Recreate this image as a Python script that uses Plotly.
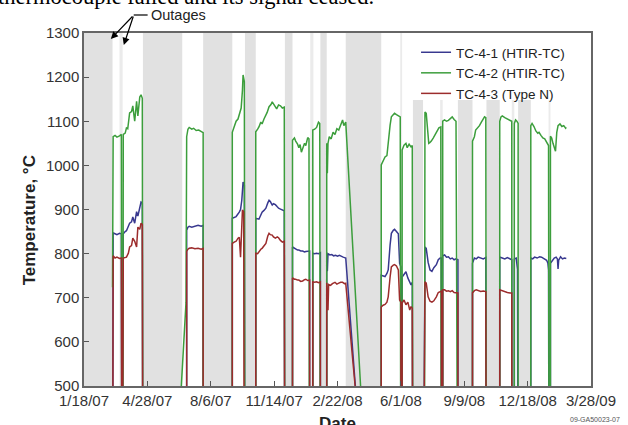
import pandas as pd
import plotly.graph_objects as go

START = pd.Timestamp("2007-01-18")
END = pd.Timestamp("2009-03-28")

# x-axis ticks (every 100 days)
tick_days = [0, 100, 200, 300, 400, 500, 600, 700, 800]
tick_labels = ["1/18/07", "4/28/07", "8/6/07", "11/14/07", "2/22/08",
               "6/1/08", "9/9/08", "12/18/08", "3/28/09"]
y_ticks = [500, 600, 700, 800, 900, 1000, 1100, 1200, 1300]

# outage periods (days after 1/18/07)
outage_start = [0, 93, 188, 254, 317, 373, 413, 519, 590, 635, 685]
outage_end = [45, 155, 234, 271, 329, 383, 469, 535, 613, 656, 705]
short_outage_start = [56, 357, 499, 562, 675, 733]
short_outage_end = [61, 362, 502, 566, 679, 736]

# TC-4-1 (HTIR-TC)
tc41_day = [45, 46, 49, 52, 56, 59, 60,
            61, 62, 65, 67, 70, 72, 75, 77, 80, 83, 85, 88, 90, 92, 93,
            162, 162, 164, 166, 170, 175, 180, 185, 188, 188,
            234, 234, 237, 240, 245, 247, 249, 251, 253, 254,
            271, 271, 276, 279, 281, 284, 287, 290, 292, 294, 297, 299, 302, 305, 307, 310, 313, 316, 317,
            329, 329, 332, 334, 337, 339, 342, 345, 348, 350, 353, 356, 356,
            361, 361, 364, 367, 370, 373, 373,
            383, 383, 384, 385, 388, 391, 394, 397, 400, 403, 406, 409, 411, 413, 453,
            469, 469, 472, 475, 478, 480, 483, 485, 488, 490, 493, 496, 498, 500, 500,
            502, 502, 505, 508, 511, 513, 516, 518, 519,
            535, 537, 538, 540, 543, 546, 549, 552, 556, 559, 562, 564, 564,
            566, 566, 569, 572, 575, 578, 581, 584, 587, 590, 590,
            613, 613, 616, 619, 622, 626, 630, 634, 635,
            656, 656, 660, 664, 668, 672, 675, 675,
            679, 679, 682, 684, 685,
            705, 705, 708, 711, 715, 719, 722, 726, 730, 732, 733, 734,
            736, 736, 739, 742, 745, 747, 748, 749, 752, 755, 758, 761]
tc41_temp = [25, 847, 845, 843, 846, 845, 25,
             25, 845, 850, 852, 862, 869, 872, 883, 869, 895, 885, 910, 917, 915, 25,
             25, 853, 860, 862, 860, 862, 864, 862, 864, 25,
             25, 880, 882, 884, 894, 900, 921, 962, 955, 25,
             25, 880, 878, 888, 894, 898, 903, 915, 921, 918, 910, 913, 911, 906, 903, 901, 899, 897, 25,
             25, 815, 812, 810, 808, 808, 806, 806, 804, 805, 806, 806, 25,
             25, 801, 800, 801, 800, 802, 25,
             25, 803, 760, 800, 797, 798, 795, 796, 794, 796, 793, 792, 791, 790, 25,
             25, 751, 749, 748, 755, 763, 820, 846, 853, 855, 850, 845, 778, 770, 25,
             25, 747, 752, 759, 745, 740, 729, 735, 25,
             25, 780, 815, 812, 780, 763, 760, 768, 775, 786, 790, 790, 25,
             25, 795, 797, 792, 793, 788, 790, 786, 788, 786, 25,
             25, 778, 790, 788, 792, 790, 788, 791, 25,
             25, 792, 790, 788, 791, 787, 786, 25,
             25, 788, 790, 765, 25,
             25, 790, 788, 792, 790, 793, 792, 788, 785, 778, 763, 25,
             25, 778, 785, 790, 792, 788, 765, 785, 793, 788, 790, 789]

# TC-4-2 (HTIR-TC)
tc42_day = [45, 46, 49, 52, 56, 59, 60,
            61, 62, 65, 67, 69, 72, 75, 77, 80, 83, 85, 88, 90, 92, 93,
            135, 161, 162, 164, 166, 170, 173, 177, 181, 185, 188, 188,
            234, 234, 237, 240, 243, 246, 248, 250, 251, 253, 254,
            271, 271, 274, 276, 279, 281, 284, 287, 289, 292, 295, 297, 299, 302, 304, 307, 310, 313, 316, 317,
            329, 329, 332, 334, 337, 339, 341, 343, 345, 348, 350, 353, 355, 356,
            361, 361, 364, 367, 370, 372, 373,
            383, 383, 384, 385, 387, 390, 393, 396, 399, 402, 405, 408, 410, 413, 455,
            469, 469, 472, 475, 478, 480, 483, 485, 488, 490, 493, 496, 499, 500,
            502, 502, 505, 508, 510, 513, 516, 518, 519,
            537, 537, 538, 540, 542, 544, 546, 548, 551, 554, 557, 560, 563, 564,
            566, 566, 569, 572, 575, 578, 581, 584, 587, 590,
            613, 613, 616, 618, 621, 624, 627, 630, 632, 634, 635,
            656, 656, 658, 660, 664, 668, 672, 675, 675,
            679, 679, 681, 683, 685, 685,
            705, 705, 707, 710, 713, 716, 718, 721, 724, 727, 730, 733, 734,
            736, 736, 738, 740, 742, 744, 746, 748, 751, 754, 757, 760, 761]
tc42_temp = [724, 1065, 1068, 1064, 1067, 1070, 25,
             25, 1070, 1073, 1085, 1083, 1119, 1122, 1135, 1100, 1145, 1112, 1155, 1160, 1152, 25,
             25, 690, 1065, 1082, 1086, 1082, 1084, 1079, 1080, 1076, 1074, 25,
             25, 1075, 1086, 1100, 1105, 1122, 1130, 1170, 1205, 1190, 25,
             25, 1076, 1082, 1087, 1098, 1094, 1105, 1114, 1120, 1133, 1138, 1144, 1140, 1133, 1128, 1137, 1135, 1130, 1132, 25,
             25, 1057, 1062, 1055, 1048, 1040, 1047, 1030, 1040, 1050, 1045, 1063, 1060, 25,
             25, 1080, 1082, 1086, 1098, 1095, 25,
             25, 1050, 982, 1050, 1065, 1060, 1075, 1070, 1083, 1080, 1090, 1103, 1090, 1098, 25,
             25, 1001, 1012, 1019, 1022, 1057, 1091, 1110, 1114, 1118, 1115, 1112, 1110, 25,
             25, 1035, 1046, 1050, 1040, 1048, 1042, 1045, 25,
             25, 1110, 1121, 1118, 1075, 1050, 1052, 1055, 1062, 1070, 1078, 1085, 1087, 25,
             25, 1100, 1103, 1100, 1102, 1107, 1110, 1104, 1100, 25,
             25, 1055, 1065, 1080, 1085, 1090, 1098, 1105, 1110, 1108, 25,
             25, 1100, 1110, 1112, 1108, 1105, 1103, 1100, 25,
             25, 1095, 1103, 1100, 1095, 25,
             25, 1090, 1095, 1088, 1078, 1073, 1075, 1068, 1062, 1060, 1052, 1045, 25,
             25, 1066, 1062, 1050, 1040, 1032, 1075, 1090, 1094, 1088, 1090, 1084, 1086]

# TC-4-3 (Type N)
tc43_day = [45, 46, 49, 52, 56, 59, 60,
            61, 62, 67, 70, 72, 75, 77, 80, 83, 85, 88, 90, 92, 93,
            162, 162, 164, 166, 170, 175, 180, 185, 188, 188,
            234, 234, 237, 240, 243, 245, 247, 248, 249, 250, 252, 253,
            271, 271, 274, 276, 279, 281, 284, 287, 290, 292, 294, 297, 299, 302, 305, 307, 310, 313, 316, 317,
            329, 329, 332, 334, 337, 339, 342, 345, 348, 350, 353, 356, 356,
            361, 361, 364, 367, 370, 373, 373,
            383, 383, 385, 386, 389, 392, 396, 399, 402, 405, 408, 411, 413, 458,
            469, 469, 472, 475, 478, 480, 483, 485, 488, 490, 493, 496, 498, 500, 500,
            502, 502, 505, 508, 511, 514, 516, 518, 519,
            535, 537, 538, 540, 543, 546, 549, 552, 556, 559, 562, 564, 564,
            566, 566, 569, 572, 575, 578, 581, 584, 587, 590, 590,
            613, 613, 616, 619, 622, 626, 630, 634, 635,
            656, 656, 660, 664, 668, 672, 675, 675]
tc43_temp = [25, 795, 790, 792, 789, 790, 25,
             25, 790, 792, 801, 815, 818, 835, 828, 815, 860, 855, 869, 866, 25,
             25, 805, 810, 812, 813, 811, 812, 810, 812, 25,
             25, 823, 826, 828, 835, 837, 792, 845, 880, 899, 895, 25,
             25, 801, 800, 805, 810, 812, 818, 823, 840, 846, 843, 842, 838, 835, 838, 836, 830, 826, 828, 25,
             25, 745, 742, 742, 740, 740, 737, 738, 741, 742, 739, 740, 25,
             25, 736, 735, 736, 734, 736, 25,
             25, 734, 672, 730, 728, 732, 735, 731, 733, 735, 735, 732, 733, 25,
             25, 679, 683, 685, 690, 702, 747, 770, 774, 775, 772, 763, 695, 690, 25,
             25, 688, 695, 684, 690, 672, 680, 676, 25,
             25, 700, 736, 733, 702, 692, 690, 693, 702, 712, 715, 715, 25,
             25, 718, 718, 715, 716, 714, 716, 712, 711, 711, 25,
             25, 711, 716, 718, 716, 714, 715, 714, 25,
             25, 718, 716, 713, 712, 711, 711, 25]


def to_dates(days):
    return [START + pd.Timedelta(days=d) for d in days]


L, R, T, B = 84, 34, 33, 39
W, H = 628, 425
PW, PH = W - L - R, H - T - B


def px(xp):
    return (xp - L) / PW


def py(yp):
    return (H - B - yp) / PH


fig = go.Figure()
series = [
    ("TC-4-1 (HTIR-TC)", tc41_day, tc41_temp, "#38388f"),
    ("TC-4-2 (HTIR-TC)", tc42_day, tc42_temp, "#3c9e3c"),
    ("TC-4-3 (Type N)", tc43_day, tc43_temp, "#9c2c2c"),
]
for name, d, t, c in series:
    fig.add_trace(go.Scatter(x=to_dates(d), y=t, mode="lines", name=name,
                             line=dict(color=c, width=1.5)))

shapes = []
for s, e in zip(outage_start, outage_end):
    shapes.append(dict(type="rect", xref="x", yref="paper",
                       x0=START + pd.Timedelta(days=s), x1=START + pd.Timedelta(days=e),
                       y0=0, y1=1, fillcolor="#e1e1e1", line=dict(width=0), layer="below"))
for s, e in zip(short_outage_start, short_outage_end):
    shapes.append(dict(type="rect", xref="x", yref="paper",
                       x0=START + pd.Timedelta(days=s), x1=START + pd.Timedelta(days=e),
                       y0=0, y1=1, fillcolor="#ebebeb", line=dict(width=0), layer="below"))
# white area behind legend
shapes.append(dict(type="rect", xref="paper", yref="paper", x0=px(414), x1=1,
                   y0=py(100), y1=1, fillcolor="white", line=dict(width=0), layer="below"))
# leader line for "Outages"
shapes.append(dict(type="line", xref="paper", yref="paper", x0=px(134), x1=px(148),
                   y0=py(15), y1=py(15), line=dict(color="black", width=1.2)))

annotations = [
    dict(text="thermocouple failed and its signal ceased.", xref="paper", yref="paper",
         x=px(-5), y=py(11), xanchor="left", yanchor="bottom", showarrow=False,
         font=dict(family="Liberation Serif, Times New Roman, serif", size=22.5, color="black")),
    dict(text="Outages", xref="paper", yref="paper", x=px(149), y=py(15),
         xanchor="left", yanchor="middle", showarrow=False,
         font=dict(size=14.5, color="#222")),
    dict(text="", xref="paper", yref="paper", x=px(111), y=py(39), ax=23, ay=-24,
         showarrow=True, arrowhead=2, arrowsize=1.2, arrowwidth=1.2, arrowcolor="black"),
    dict(text="", xref="paper", yref="paper", x=px(124), y=py(45), ax=10, ay=-30,
         showarrow=True, arrowhead=2, arrowsize=1.2, arrowwidth=1.2, arrowcolor="black"),
    dict(text="<b>Temperature, °C</b>", xref="paper", yref="paper", x=px(29), y=py(220),
         xanchor="center", yanchor="middle", textangle=-90, showarrow=False,
         font=dict(size=17, color="#222")),
    dict(text="<b>Date</b>", xref="paper", yref="paper", x=0.5, y=py(412),
         xanchor="center", yanchor="top", showarrow=False,
         font=dict(size=17, color="#222")),
    dict(text="09-GA50023-07", xref="paper", yref="paper", x=px(625), y=py(419),
         xanchor="right", yanchor="middle", showarrow=False,
         font=dict(size=7, color="#555")),
]

fig.update_layout(
    width=W, height=H,
    margin=dict(l=L, r=R, t=T, b=B, pad=0),
    paper_bgcolor="white", plot_bgcolor="white",
    font=dict(family="Liberation Sans, Arial, sans-serif", size=15, color="#333"),
    shapes=shapes, annotations=annotations,
    showlegend=True,
    legend=dict(x=px(418), xanchor="left", y=py(37), yanchor="top",
                bgcolor="rgba(0,0,0,0)", font=dict(size=13.5, color="#222"),
                tracegroupgap=0),
)
fig.update_xaxes(type="date", range=[START, END],
                 tickvals=to_dates(tick_days), ticktext=tick_labels,
                 ticks="inside", ticklen=5, tickcolor="#555", tickwidth=1,
                 showline=True, mirror=True, linecolor="#666", linewidth=1.5,
                 showgrid=False, zeroline=False, tickangle=0)
fig.update_yaxes(range=[500, 1300], tickvals=y_ticks,
                 ticks="inside", ticklen=5, tickcolor="#555", tickwidth=1,
                 showline=True, mirror=True, linecolor="#666", linewidth=1.5,
                 showgrid=False, zeroline=False)

# remove the default page margin so the figure sits at the window's top-left corner
fig.write_html("out.html",
               config={"displayModeBar": False},
               post_script="document.body.style.margin='0';document.body.style.padding='0';")
